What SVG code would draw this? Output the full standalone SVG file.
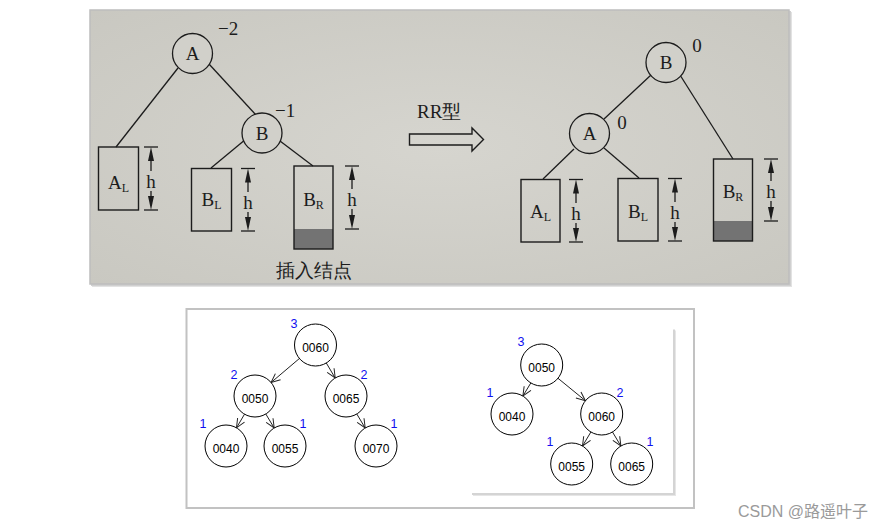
<svg xmlns="http://www.w3.org/2000/svg" width="890" height="530" viewBox="0 0 890 530">
<style>
.ph{font-family:"Liberation Serif","Times New Roman",serif;fill:#1c1c1c}
.nm{font-size:19px;text-anchor:middle}
.sub{font-size:12px}
.bf{font-size:19px}
.pl{stroke:#1c1c1c;stroke-width:1.3;fill:none}
.pc{stroke:#1c1c1c;stroke-width:1.3;fill:#d1d0ca}
.bx{stroke:#1c1c1c;stroke-width:1.4;fill:none}
.ah{fill:#1c1c1c}
.tn{fill:#fff;stroke:#000;stroke-width:1}
.tt{font-family:"Liberation Sans",Arial,sans-serif;font-size:12px;text-anchor:middle;fill:#000}
.bl{font-family:"Liberation Sans",Arial,sans-serif;font-size:12.5px;text-anchor:middle;fill:#1010f0}
.ed{stroke:#222;stroke-width:1;fill:none}
</style>
<defs>
<marker id="arr" viewBox="0 0 10 10" refX="10" refY="5" markerWidth="10" markerHeight="10" markerUnits="userSpaceOnUse" orient="auto">
<path d="M1,1 L10,5 L1,9" fill="none" stroke="#222" stroke-width="1"/>
</marker>
<radialGradient id="paper" cx="0.5" cy="0.5" r="0.7">
<stop offset="0" stop-color="#d6d5cf"/>
<stop offset="1" stop-color="#c9c8c1"/>
</radialGradient>
</defs>
<rect width="890" height="530" fill="#fff"/>

<g id="photo">
<rect x="92" y="12" width="700" height="275" fill="#e2e2e2"/>
<rect x="91" y="11" width="700" height="275" fill="#d0d0d0"/>
<rect x="90" y="10" width="699" height="274" fill="url(#paper)" stroke="#bdbdbd" stroke-width="1.5"/>
</g>

<g id="top-connectors">
<line class="pl" x1="178" y1="68" x2="116" y2="147"/>
<line class="pl" x1="209" y1="64" x2="256" y2="115"/>
<line class="pl" x1="246" y1="139" x2="211" y2="168"/>
<line class="pl" x1="280" y1="141" x2="313" y2="166"/>
<line class="pl" x1="651" y1="75" x2="604" y2="119"/>
<line class="pl" x1="680" y1="75" x2="733" y2="159"/>
<line class="pl" x1="574" y1="149" x2="543" y2="179"/>
<line class="pl" x1="604" y1="148" x2="639" y2="178"/>
</g>

<g id="tl-A">
<circle class="pc" cx="192.5" cy="53.5" r="20"/>
<text class="ph nm" x="192.5" y="60">A</text>
<text class="ph bf" x="218" y="35">−2</text>
</g>
<g id="tl-B">
<circle class="pc" cx="262" cy="133" r="20"/>
<text class="ph nm" x="262" y="140">B</text>
<text class="ph bf" x="275" y="117">−1</text>
</g>
<g id="tl-AL">
<rect class="bx" x="98.5" y="147" width="40" height="63"/>
<text class="ph nm" x="118.5" y="189">A<tspan class="sub" dy="3">L</tspan></text>
</g>
<g id="tl-BL">
<rect class="bx" x="191.5" y="168.5" width="40" height="62.5"/>
<text class="ph nm" x="211.5" y="206">B<tspan class="sub" dy="3">L</tspan></text>
</g>
<g id="tl-BR">
<rect x="294" y="229" width="39" height="20" fill="#737373"/>
<rect class="bx" x="294" y="166" width="39" height="83"/>
<text class="ph nm" x="313.5" y="206">B<tspan class="sub" dy="3">R</tspan></text>
<text class="ph" x="314" y="277" font-size="19" text-anchor="middle" font-family="Noto Sans CJK SC,serif">插入结点</text>
</g>

<g id="h-markers">
<g>
<line class="pl" x1="144" y1="147" x2="158" y2="147"/><line class="pl" x1="144" y1="210" x2="158" y2="210"/>
<polygon class="ah" points="151,147 148,161 154,161"/><polygon class="ah" points="151,210 148,196 154,196"/>
<line class="pl" x1="151" y1="158" x2="151" y2="171"/><line class="pl" x1="151" y1="191" x2="151" y2="199"/>
<text class="ph nm" x="151" y="188">h</text>
</g>
<g>
<line class="pl" x1="241" y1="168.5" x2="255" y2="168.5"/><line class="pl" x1="241" y1="231" x2="255" y2="231"/>
<polygon class="ah" points="248,168.5 245,182.5 251,182.5"/><polygon class="ah" points="248,231 245,217 251,217"/>
<line class="pl" x1="248" y1="180" x2="248" y2="192"/><line class="pl" x1="248" y1="212" x2="248" y2="220"/>
<text class="ph nm" x="248" y="209">h</text>
</g>
<g>
<line class="pl" x1="345" y1="166" x2="359" y2="166"/><line class="pl" x1="345" y1="229" x2="359" y2="229"/>
<polygon class="ah" points="352,166 349,180 355,180"/><polygon class="ah" points="352,229 349,215 355,215"/>
<line class="pl" x1="352" y1="178" x2="352" y2="189"/><line class="pl" x1="352" y1="209" x2="352" y2="218"/>
<text class="ph nm" x="352" y="206">h</text>
</g>
<g>
<line class="pl" x1="569" y1="179.5" x2="583" y2="179.5"/><line class="pl" x1="569" y1="242" x2="583" y2="242"/>
<polygon class="ah" points="576,179.5 573,193.5 579,193.5"/><polygon class="ah" points="576,242 573,228 579,228"/>
<line class="pl" x1="576" y1="191" x2="576" y2="203"/><line class="pl" x1="576" y1="223" x2="576" y2="231"/>
<text class="ph nm" x="576" y="220">h</text>
</g>
<g>
<line class="pl" x1="668" y1="178.5" x2="682" y2="178.5"/><line class="pl" x1="668" y1="241" x2="682" y2="241"/>
<polygon class="ah" points="675,178.5 672,192.5 678,192.5"/><polygon class="ah" points="675,241 672,227 678,227"/>
<line class="pl" x1="675" y1="190" x2="675" y2="202"/><line class="pl" x1="675" y1="222" x2="675" y2="230"/>
<text class="ph nm" x="675" y="219">h</text>
</g>
<g>
<line class="pl" x1="764" y1="159" x2="778" y2="159"/><line class="pl" x1="764" y1="221" x2="778" y2="221"/>
<polygon class="ah" points="771,159 768,173 774,173"/><polygon class="ah" points="771,221 768,207 774,207"/>
<line class="pl" x1="771" y1="171" x2="771" y2="181"/><line class="pl" x1="771" y1="201" x2="771" y2="210"/>
<text class="ph nm" x="771" y="198">h</text>
</g>
</g>

<g id="rr-arrow">
<text class="ph" x="417" y="118" font-size="19" font-family="Liberation Serif,Noto Sans CJK SC,serif">RR型</text>
<path d="M409.5,134 H472 V128 L483.5,139.5 L472,151 V145 H409.5 Z" fill="none" stroke="#1c1c1c" stroke-width="1.4"/>
</g>

<g id="tr-B">
<circle class="pc" cx="666" cy="62.5" r="20"/>
<text class="ph nm" x="666" y="69">B</text>
<text class="ph bf" x="697" y="52" text-anchor="middle">0</text>
</g>
<g id="tr-A">
<circle class="pc" cx="589.5" cy="133.5" r="20"/>
<text class="ph nm" x="589.5" y="140">A</text>
<text class="ph bf" x="622" y="129" text-anchor="middle">0</text>
</g>
<g id="tr-AL">
<rect class="bx" x="521" y="179.5" width="39" height="62.5"/>
<text class="ph nm" x="540.5" y="218">A<tspan class="sub" dy="3">L</tspan></text>
</g>
<g id="tr-BL">
<rect class="bx" x="618" y="178.5" width="40" height="62.5"/>
<text class="ph nm" x="638" y="218">B<tspan class="sub" dy="3">L</tspan></text>
</g>
<g id="tr-BR">
<rect x="713.5" y="221" width="39" height="20" fill="#737373"/>
<rect class="bx" x="713.5" y="159" width="39" height="82"/>
<text class="ph nm" x="733" y="198">B<tspan class="sub" dy="3">R</tspan></text>
</g>

<g id="bottom-frame">
<rect x="186.5" y="309" width="507.5" height="199" fill="#fff" stroke="#c2c2c2" stroke-width="2"/>
<rect x="473" y="330.5" width="203" height="165.5" fill="#e6e6e6"/>
<rect x="472" y="329.5" width="203" height="165.5" fill="#d4d4d4"/>
<rect x="470" y="327.5" width="203" height="165.5" fill="#fff"/>
</g>

<g id="tree-connectors">
<line class="ed" x1="299.4" y1="358.5" x2="271.1" y2="382.5" marker-end="url(#arr)"/>
<line class="ed" x1="326.3" y1="363" x2="335.2" y2="378" marker-end="url(#arr)"/>
<line class="ed" x1="244.5" y1="414.2" x2="236.5" y2="427.8" marker-end="url(#arr)"/>
<line class="ed" x1="265.8" y1="414" x2="274.2" y2="428" marker-end="url(#arr)"/>
<line class="ed" x1="356.8" y1="414" x2="365.2" y2="428" marker-end="url(#arr)"/>
<line class="ed" x1="530.8" y1="383" x2="522.9" y2="396" marker-end="url(#arr)"/>
<line class="ed" x1="558" y1="378.3" x2="585.4" y2="400.7" marker-end="url(#arr)"/>
<line class="ed" x1="590.9" y1="432" x2="582.5" y2="446" marker-end="url(#arr)"/>
<line class="ed" x1="612.5" y1="432" x2="620.9" y2="446" marker-end="url(#arr)"/>
</g>

<g id="L0060"><circle class="tn" cx="315.5" cy="345" r="21"/><text class="tt" x="315.5" y="352">0060</text><text class="bl" x="294" y="328">3</text></g>
<g id="L0050"><circle class="tn" cx="255" cy="396" r="21"/><text class="tt" x="255" y="403">0050</text><text class="bl" x="234" y="379">2</text></g>
<g id="L0065"><circle class="tn" cx="346" cy="396" r="21"/><text class="tt" x="346" y="403">0065</text><text class="bl" x="364" y="379">2</text></g>
<g id="L0040"><circle class="tn" cx="226" cy="446" r="21"/><text class="tt" x="226" y="453">0040</text><text class="bl" x="203" y="428">1</text></g>
<g id="L0055"><circle class="tn" cx="285" cy="446" r="21"/><text class="tt" x="285" y="453">0055</text><text class="bl" x="303" y="428">1</text></g>
<g id="L0070"><circle class="tn" cx="376" cy="446" r="21"/><text class="tt" x="376" y="453">0070</text><text class="bl" x="394" y="428">1</text></g>

<g id="R0050"><circle class="tn" cx="541.7" cy="365" r="21"/><text class="tt" x="541.7" y="372">0050</text><text class="bl" x="521" y="346">3</text></g>
<g id="R0040"><circle class="tn" cx="512" cy="414" r="21"/><text class="tt" x="512" y="421">0040</text><text class="bl" x="490" y="397">1</text></g>
<g id="R0060"><circle class="tn" cx="601.7" cy="414" r="21"/><text class="tt" x="601.7" y="421">0060</text><text class="bl" x="620" y="397">2</text></g>
<g id="R0055"><circle class="tn" cx="571.7" cy="464" r="21"/><text class="tt" x="571.7" y="471">0055</text><text class="bl" x="550" y="446">1</text></g>
<g id="R0065"><circle class="tn" cx="631.7" cy="464" r="21"/><text class="tt" x="631.7" y="471">0065</text><text class="bl" x="650" y="446">1</text></g>

<text x="738" y="517" font-family="Liberation Sans,Noto Sans CJK SC,sans-serif" font-size="16" fill="#9a9a9a">CSDN @路遥叶子</text>
</svg>
